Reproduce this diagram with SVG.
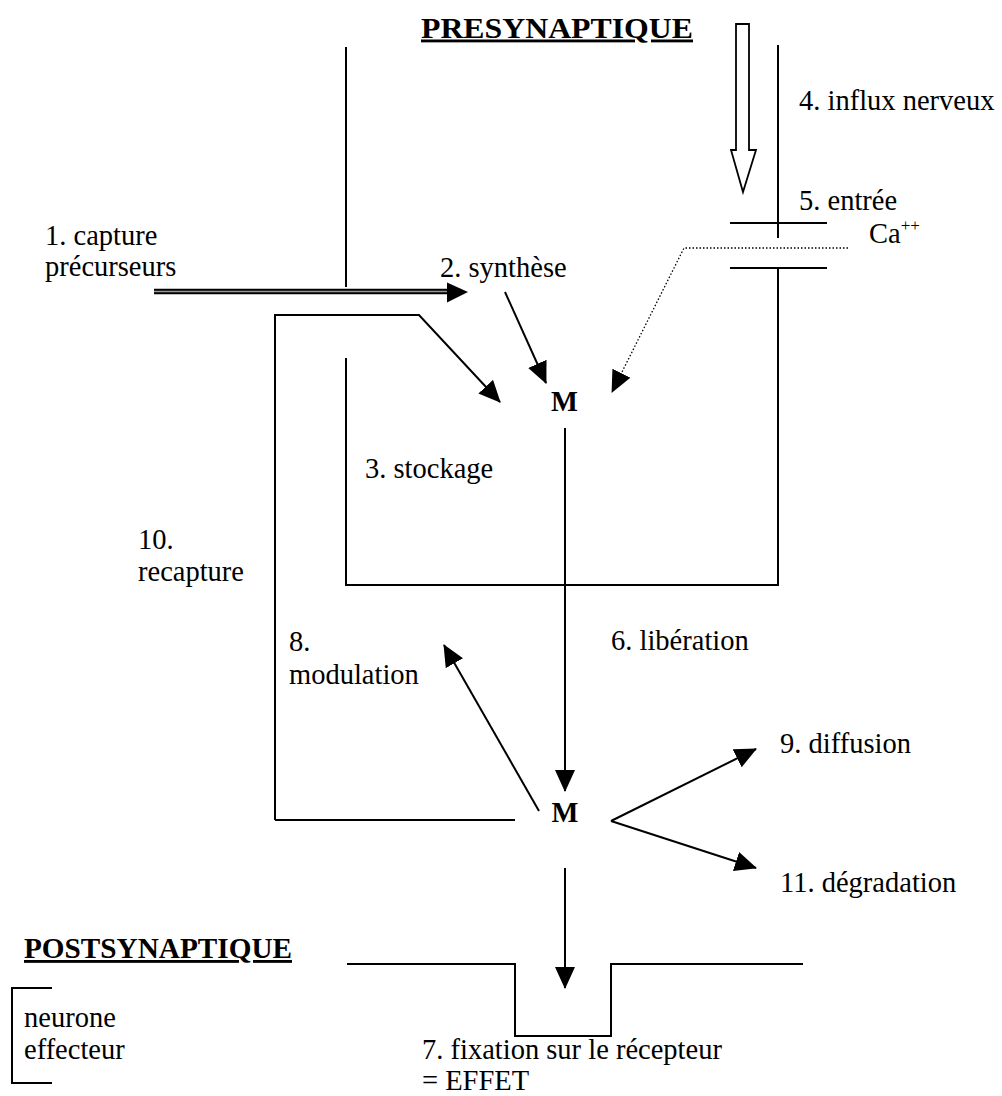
<svg xmlns="http://www.w3.org/2000/svg" width="1002" height="1096" viewBox="0 0 1002 1096">
<style>
text{font-family:"Liberation Serif","Times New Roman",serif;font-size:28.5px;fill:#000}
.b{font-weight:bold}
.t{font-weight:bold;text-decoration:underline}
.ln{stroke:#000;stroke-width:2;fill:none}
.ar{stroke:#000;stroke-width:2;fill:none;marker-end:url(#ah)}
.dot{stroke:#000;stroke-width:1.3;fill:none;stroke-dasharray:1.5 2;marker-end:url(#ah)}
</style>
<defs>
<marker id="ah" markerUnits="userSpaceOnUse" markerWidth="22" markerHeight="20" refX="21" refY="10" orient="auto" viewBox="0 0 22 20">
<path d="M0,0 L22,10 L0,20 z" fill="#000"/>
</marker>
</defs>
<rect width="1002" height="1096" fill="#fff"/>

<g id="titles">
<text class="t" x="421" y="37.5" font-size="30" textLength="272" lengthAdjust="spacingAndGlyphs">PRESYNAPTIQUE</text>
<text class="t" x="24" y="958" font-size="29" textLength="268" lengthAdjust="spacingAndGlyphs">POSTSYNAPTIQUE</text>
</g>

<g id="membranes">
<line class="ln" x1="346" y1="47" x2="346" y2="287"/>
<polyline class="ln" points="346,358 346,585 778,585 778,268"/>
<line class="ln" x1="778" y1="45" x2="778" y2="238"/>
<line class="ln" x1="730" y1="223" x2="827" y2="223"/>
<line class="ln" x1="730" y1="268" x2="827" y2="268"/>
<polyline class="ln" points="347,964 515,964 515,1036 611,1036 611,964 803,964"/>
<polyline class="ln" points="52,988 12,988 12,1083 52,1083"/>
</g>

<g id="influx-arrow">
<polygon points="736,24 749,24 749,150 756,150 743,192 731,150 736,150" fill="#fff" stroke="#000" stroke-width="1.8" stroke-linejoin="miter"/>
</g>

<g id="M-top"><text class="b" x="564.5" y="411" font-size="27" text-anchor="middle">M</text></g>
<g id="M-bottom"><text class="b" x="565" y="822" font-size="27" text-anchor="middle">M</text></g>

<g id="connectors">
<line x1="154" y1="291.5" x2="450" y2="291.5" stroke="#000" stroke-width="5.5"/>
<line x1="154" y1="291.5" x2="452" y2="291.5" stroke="#999" stroke-width="1.5"/>
<polygon points="447,282.5 468,292 447,302.5" fill="#000"/>
<polyline class="ar" points="275,820 275,315 419,315 500,402"/>
<line class="ar" x1="505" y1="292" x2="546" y2="383"/>
<polyline class="dot" points="848,248 684,248 612,392"/>
<line class="ar" x1="565" y1="428" x2="565" y2="791"/>
<line class="ln" x1="275" y1="820" x2="515" y2="820"/>
<line class="ar" x1="539" y1="811" x2="444" y2="645"/>
<line class="ar" x1="611" y1="821" x2="756" y2="749"/>
<line class="ar" x1="611" y1="821" x2="756" y2="868"/>
<line class="ar" x1="565" y1="868" x2="565" y2="988"/>
</g>

<g id="labels">
<text x="799" y="110">4. influx nerveux</text>
<text x="799" y="210">5. entrée</text>
<text x="869" y="243">Ca<tspan font-size="17" dy="-12">++</tspan></text>
<text x="45" y="245">1. capture</text>
<text x="45" y="276">précurseurs</text>
<text x="440" y="277">2. synthèse</text>
<text x="365" y="478">3. stockage</text>
<text x="138" y="549">10.</text>
<text x="138" y="581">recapture</text>
<text x="611" y="650">6. libération</text>
<text x="289" y="651">8.</text>
<text x="289" y="684">modulation</text>
<text x="780" y="753">9. diffusion</text>
<text x="780" y="892">11. dégradation</text>
<text x="24" y="1027">neurone</text>
<text x="24" y="1059">effecteur</text>
<text x="422" y="1059">7. fixation sur le récepteur</text>
<text x="422" y="1090">= EFFET</text>
</g>
</svg>
